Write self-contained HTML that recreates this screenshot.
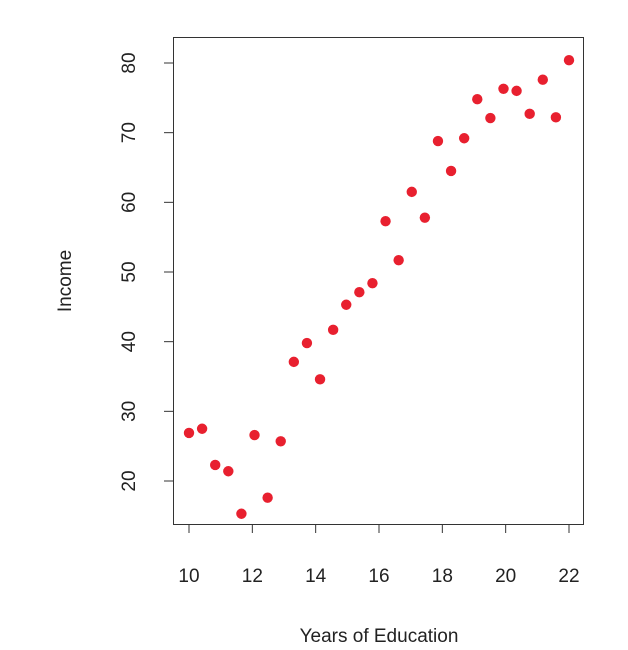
<!DOCTYPE html>
<html><head><meta charset="utf-8"><style>
body{margin:0;background:#fff;}
svg{display:block;font-family:"Liberation Sans",sans-serif;}
</style></head><body>
<svg id="chart" width="628" height="650" viewBox="0 0 628 650">
<rect x="173.5" y="37.5" width="410" height="487" fill="none" stroke="#333" stroke-width="1"/>
<g id="xaxis"></g>
<g id="yaxis"></g>
<g id="points"></g>
<text x="379" y="642" text-anchor="middle" font-size="19" fill="#222">Years of Education</text>
<text transform="translate(71,281) rotate(-90)" text-anchor="middle" font-size="19" fill="#222">Income</text>
</svg>
<script>
const education = [];
for (let i = 0; i < 30; i++) education.push(10 + i * 12 / 29);
const income = [26.9,27.5,22.3,21.4,15.3,26.6,17.6,25.7,37.1,39.8,34.6,41.7,45.3,47.1,48.4,57.3,51.7,61.5,57.8,68.8,64.5,69.2,74.8,72.1,76.3,76.0,72.7,77.6,72.2,80.4];
const xTicks = [10,12,14,16,18,20,22];
const yTicks = [20,30,40,50,60,70,80];

const NS = "http://www.w3.org/2000/svg";
const xs = v => 189 + (v - 10) * (380 / 12);
const ys = v => 481 - (v - 20) * (418 / 60);

const xa = document.getElementById('xaxis');
const ya = document.getElementById('yaxis');
const pts = document.getElementById('points');

xTicks.forEach(t => {
  const l = document.createElementNS(NS, 'line');
  
  
  l.setAttribute('x1', xs(t)); l.setAttribute('x2', xs(t));
  l.setAttribute('y1', 524); l.setAttribute('y2', 533);
  l.setAttribute('stroke', '#333');
  xa.appendChild(l);
  const tx = document.createElementNS(NS, 'text');
  
  
  tx.setAttribute('x', xs(t)); tx.setAttribute('y', 582);
  tx.setAttribute('text-anchor', 'middle');
  tx.setAttribute('font-size', '19'); tx.setAttribute('fill', '#222');
  tx.textContent = t;
  xa.appendChild(tx);
});
yTicks.forEach(t => {
  const l = document.createElementNS(NS, 'line');
  
  
  l.setAttribute('x1', 164); l.setAttribute('x2', 173);
  l.setAttribute('y1', ys(t)); l.setAttribute('y2', ys(t));
  l.setAttribute('stroke', '#333');
  ya.appendChild(l);
  const tx = document.createElementNS(NS, 'text');
  
  
  tx.setAttribute('transform', `translate(135,${ys(t)}) rotate(-90)`);
  tx.setAttribute('text-anchor', 'middle');
  tx.setAttribute('font-size', '19'); tx.setAttribute('fill', '#222');
  tx.textContent = t;
  ya.appendChild(tx);
});
education.forEach((e, i) => {
  const c = document.createElementNS(NS, 'circle');
  
  
  c.setAttribute('cx', xs(e)); c.setAttribute('cy', ys(income[i]));
  c.setAttribute('r', 5.2); c.setAttribute('fill', '#e8202f');
  pts.appendChild(c);
});
</script>
</body></html>
